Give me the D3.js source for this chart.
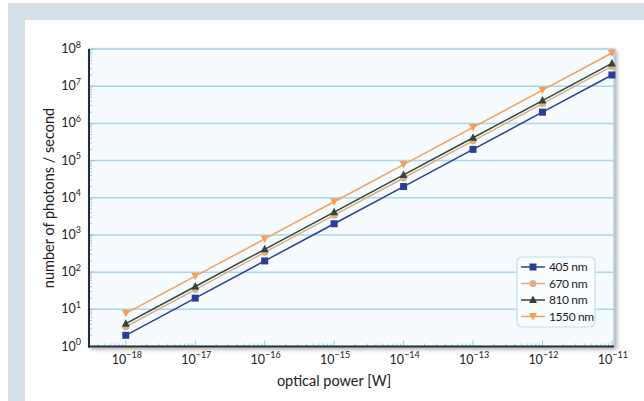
<!DOCTYPE html>
<html><head><meta charset="utf-8">
<script src="https://cdn.jsdelivr.net/npm/d3@7"></script>
<style>body{margin:0;background:#fff;}svg{display:block;font-family:Lato,"Open Sans",sans-serif;}</style>
</head><body><svg id="c" width="644" height="401"></svg>
<script>
const powers = [1e-18,1e-17,1e-16,1e-15,1e-14,1e-13,1e-12,1e-11];
const series = [
  {name:"405 nm", color:"#2c3d97", marker:"square", values:[2,20,200,2000,2e4,2e5,2e6,2e7]},
  {name:"670 nm", color:"#d8af86", marker:"circle", values:[3.4,34,340,3400,3.4e4,3.4e5,3.4e6,3.4e7]},
  {name:"810 nm", color:"#374239", marker:"triangle", values:[4.1,41,410,4100,4.1e4,4.1e5,4.1e6,4.1e7]},
  {name:"1550 nm", color:"#f7a055", marker:"triangledown", values:[7.8,78,780,7800,7.8e4,7.8e5,7.8e6,7.8e7]}
];
const xTickExp = [-18,-17,-16,-15,-14,-13,-12,-11];
const yTickExp = [0,1,2,3,4,5,6,7,8];

const svg = d3.select("#c");
svg.append("rect").attr("x",8).attr("y",3).attr("width",636).attr("height",398).attr("fill","#d8e0e7");
svg.append("rect").attr("x",25).attr("y",20).attr("width",619).attr("height",381).attr("fill","#ffffff");

const L=89,R=614,T=49,B=346.5;
const x = d3.scaleLog().domain([Math.pow(10,-18.53),Math.pow(10,-10.97)]).range([L,R]);
const y = d3.scaleLog().domain([1,1e8]).range([B,T]);

const defs = svg.append("defs");
const f = defs.append("filter").attr("id","sh").attr("x","-5%").attr("y","-5%").attr("width","110%").attr("height","115%");
f.append("feGaussianBlur").attr("in","SourceAlpha").attr("stdDeviation",2);
f.append("feOffset").attr("dx",2).attr("dy",2).attr("result","o");
f.append("feComponentTransfer").append("feFuncA").attr("type","linear").attr("slope",0.35);
const fm = f.append("feMerge"); fm.append("feMergeNode"); fm.append("feMergeNode").attr("in","SourceGraphic");

svg.append("rect").attr("x",L).attr("y",T).attr("width",R-L).attr("height",B-T)
  .attr("fill","#f5fbfe").attr("stroke","#a9d4e6").attr("stroke-width",1.5).attr("filter","url(#sh)");

const g = svg.append("g");
g.selectAll("line.grid").data(yTickExp.slice(1,-1)).join("line")
  .attr("x1",L).attr("x2",R).attr("y1",d=>y(Math.pow(10,d))).attr("y2",d=>y(Math.pow(10,d)))
  .attr("stroke","#a9d8ea").attr("stroke-width",1.5);

const yMinor=[]; for(let e=0;e<8;e++) for(let k=1;k<10;k++) yMinor.push({v:k*Math.pow(10,e),maj:k===1});
yMinor.push({v:1e8,maj:true});
g.selectAll("line.ym").data(yMinor).join("line")
  .attr("x1",L).attr("x2",d=>L+(d.maj?6:3)).attr("y1",d=>y(d.v)).attr("y2",d=>y(d.v))
  .attr("stroke","#8fcbe3").attr("stroke-width",1);
const xMinor=[]; for(let e=-19;e<-10;e++) for(let k=1;k<10;k++){const v=k*Math.pow(10,e); if(x(v)>=L+2&&x(v)<=R) xMinor.push({v:v,maj:k===1});}
g.selectAll("line.xm").data(xMinor).join("line")
  .attr("x1",d=>x(d.v)).attr("x2",d=>x(d.v)).attr("y1",B).attr("y2",d=>B-(d.maj?6:3))
  .attr("stroke","#8fcbe3").attr("stroke-width",1);

svg.append("line").attr("x1",L).attr("x2",L).attr("y1",T).attr("y2",B+1).attr("stroke","#2a2e30").attr("stroke-width",2);
svg.append("line").attr("x1",L-1).attr("x2",R).attr("y1",B).attr("y2",B).attr("stroke","#2a2e30").attr("stroke-width",2);

const yl = svg.append("g");
yTickExp.forEach(e=>{
  const t = yl.append("text").attr("x",L-8).attr("y",y(Math.pow(10,e))+4).attr("text-anchor","end").attr("font-size",12.5).attr("fill","#222");
  t.append("tspan").text("10");
  t.append("tspan").attr("dy",-5.5).attr("font-size",9).text(String(e));
});
xTickExp.forEach(e=>{
  const t = yl.append("text").attr("x",x(Math.pow(10,e))+1).attr("y",B+17).attr("text-anchor","middle").attr("font-size",12.5).attr("fill","#222");
  t.append("tspan").text("10");
  t.append("tspan").attr("dy",-5.5).attr("font-size",9).text("\u2212"+Math.abs(e));
});

svg.append("text").attr("x",334).attr("y",386).attr("text-anchor","middle").attr("font-size",14.5).attr("fill","#222").text("optical power [W]");
svg.append("text").attr("transform","translate(54,198) rotate(-90)").attr("text-anchor","middle").attr("font-size",14.5).attr("fill","#222").text("number of photons / second");

function marker(sel, type, color){
  if(type==="square") sel.append("rect").attr("x",-3.5).attr("y",-3.5).attr("width",7).attr("height",7).attr("fill",color);
  else if(type==="circle") sel.append("circle").attr("r",3.5).attr("fill",color);
  else if(type==="triangle") sel.append("path").attr("d","M0,-4.5L4,3L-4,3Z").attr("fill",color);
  else sel.append("path").attr("d","M0,4L4,-3.5L-4,-3.5Z").attr("fill",color);
}

const line = d3.line().x(d=>x(d[0])).y(d=>y(d[1]));
series.forEach(s=>{
  const pts = powers.map((p,i)=>[p,s.values[i]]);
  svg.append("path").attr("d",line(pts)).attr("fill","none").attr("stroke",s.color).attr("stroke-width",1.5);
  pts.forEach(p=>{
    const m = svg.append("g").attr("transform",`translate(${x(p[0])},${y(p[1])})`);
    marker(m,s.marker,s.color);
  });
});

const lg = svg.append("g");
lg.append("rect").attr("x",517).attr("y",257).attr("width",78).attr("height",70).attr("rx",5)
  .attr("fill","#fafdff").attr("stroke","#bfe0ee").attr("stroke-width",1.2);
series.forEach((s,i)=>{
  const yy = 267+i*16.5;
  lg.append("line").attr("x1",521).attr("x2",545).attr("y1",yy).attr("y2",yy).attr("stroke",s.color).attr("stroke-width",1.5);
  const m = lg.append("g").attr("transform",`translate(533,${yy})`); marker(m,s.marker,s.color);
  lg.append("text").attr("x",549).attr("y",yy+4).attr("font-size",12).attr("fill","#222").attr("letter-spacing",-0.4).text(s.name);
});
</script></body></html>
